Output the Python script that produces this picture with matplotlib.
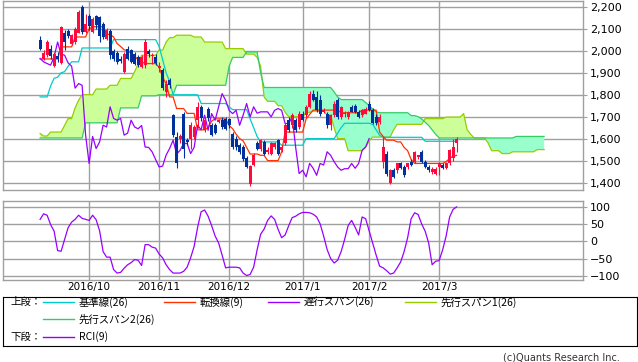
import matplotlib
matplotlib.use("Agg")
import matplotlib.pyplot as plt
import numpy as np
import pandas as pd

# trading days shown (TSE calendar)
holidays = ["2016-09-19", "2016-09-22", "2016-10-10", "2016-11-03", "2016-11-23",
            "2016-12-23", "2017-01-02", "2017-01-03", "2017-01-09"]
dates = pd.bdate_range("2016-09-09", "2017-03-08").difference(pd.to_datetime(holidays))

opens = [2051, 1965, 1980, 2010, 1930, 1975, 1945, 2079, 2090, 2033, 2040, 2082, 2200, 2088,
         2160, 2088, 2160, 2155, 2124, 2056, 2090, 2000, 1990, 1965, 1905, 2010, 2003, 1987,
         1972, 1927, 1935, 2000, 1975, 1972, 1920, 1912, 1813, 1866, 1707, 1608, 1600, 1714,
         1595, 1600, 1608, 1684, 1745, 1640, 1737, 1661, 1661, 1676, 1684, 1690, 1690, 1623,
         1600, 1570, 1562, 1510, 1395, 1480, 1578, 1555, 1585, 1540, 1532, 1562, 1593, 1547,
         1578, 1684, 1661, 1684, 1653, 1714, 1707, 1745, 1805, 1790, 1775, 1722, 1714, 1661,
         1707, 1775, 1699, 1710, 1699, 1745, 1750, 1722, 1707, 1714, 1760, 1729, 1699, 1676,
         1495, 1532, 1400, 1456, 1456, 1487, 1471, 1471, 1495, 1495, 1517, 1540, 1495, 1471,
         1448, 1441, 1471, 1480, 1465, 1487, 1510, 1580]
highs = [2066, 2003, 2048, 2025, 1995, 1995, 2115, 2094, 2100, 2075, 2109, 2185, 2207, 2170,
         2170, 2154, 2165, 2160, 2130, 2105, 2100, 2010, 2000, 1975, 1995, 2020, 2010, 1995,
         1980, 1980, 2056, 2010, 1990, 1985, 1950, 1920, 1866, 1875, 1714, 1630, 1620, 1720,
         1605, 1676, 1660, 1767, 1755, 1700, 1745, 1670, 1670, 1690, 1700, 1700, 1695, 1630,
         1610, 1580, 1570, 1520, 1480, 1535, 1590, 1600, 1595, 1560, 1585, 1585, 1600, 1570,
         1670, 1700, 1715, 1695, 1725, 1725, 1755, 1815, 1820, 1815, 1800, 1740, 1720, 1710,
         1770, 1785, 1750, 1725, 1725, 1755, 1760, 1730, 1735, 1745, 1770, 1740, 1710, 1710,
         1608, 1545, 1460, 1465, 1490, 1495, 1480, 1490, 1505, 1545, 1525, 1550, 1502, 1480,
         1470, 1470, 1495, 1490, 1495, 1555, 1600, 1608]
lows = [2003, 1957, 1972, 1965, 1925, 1950, 1940, 2003, 2060, 2025, 2033, 2079, 2075, 2079,
        2094, 2079, 2100, 2040, 2055, 2048, 1965, 1955, 1940, 1945, 1900, 1960, 1945, 1935,
        1925, 1920, 1920, 1970, 1940, 1935, 1905, 1820, 1790, 1830, 1608, 1465, 1580, 1510,
        1570, 1555, 1600, 1650, 1680, 1630, 1680, 1610, 1620, 1670, 1645, 1640, 1650, 1555,
        1550, 1530, 1500, 1465, 1385, 1475, 1550, 1545, 1525, 1530, 1525, 1555, 1525, 1540,
        1570, 1630, 1650, 1630, 1645, 1680, 1700, 1740, 1770, 1720, 1705, 1715, 1650, 1640,
        1700, 1690, 1690, 1700, 1690, 1720, 1715, 1695, 1700, 1710, 1725, 1665, 1660, 1665,
        1465, 1430, 1395, 1420, 1445, 1460, 1425, 1460, 1475, 1490, 1505, 1490, 1465, 1450,
        1440, 1435, 1433, 1460, 1460, 1480, 1500, 1540]
closes = [2010, 1990, 2040, 1975, 1987, 1962, 2109, 2040, 2066, 2070, 2100, 2177, 2088, 2124,
          2112, 2145, 2118, 2068, 2063, 2097, 1980, 1965, 1950, 1955, 1987, 1965, 1950, 1942,
          1935, 1972, 2040, 1985, 1980, 1945, 1930, 1830, 1851, 1843, 1616, 1487, 1610, 1555,
          1585, 1661, 1653, 1745, 1692, 1684, 1692, 1616, 1625, 1684, 1653, 1645, 1660, 1562,
          1560, 1540, 1505, 1471, 1475, 1525, 1555, 1593, 1530, 1547, 1578, 1578, 1532, 1560,
          1661, 1640, 1707, 1638, 1714, 1684, 1745, 1805, 1775, 1729, 1714, 1729, 1661, 1707,
          1760, 1699, 1745, 1716, 1722, 1722, 1722, 1699, 1729, 1737, 1729, 1669, 1669, 1699,
          1562, 1441, 1456, 1426, 1487, 1465, 1433, 1487, 1480, 1540, 1524, 1495, 1471, 1456,
          1463, 1463, 1487, 1465, 1487, 1547, 1562, 1600]

tenkan = [1963, 1963, 1963, 1963, 1963, 1963, 2018, 2018, 2018, 2018, 2063, 2063, 2063, 2063,
          2100, 2110, 2110, 2110, 2110, 2075, 2075, 2063, 2033, 2020, 2005, 2000, 1990, 1975,
          1960, 1950, 1942, 1942, 1942, 1942, 1925, 1880, 1850, 1790, 1790, 1737, 1737, 1737,
          1715, 1715, 1715, 1640, 1640, 1640, 1650, 1680, 1690, 1690, 1690, 1690, 1660, 1645,
          1620, 1600, 1590, 1560, 1530, 1530, 1530, 1524, 1524, 1500, 1500, 1500, 1500, 1540,
          1630, 1630, 1630, 1630, 1630, 1630, 1690, 1710, 1730, 1730, 1730, 1730, 1730, 1730,
          1730, 1730, 1718, 1718, 1718, 1718, 1718, 1718, 1730, 1730, 1730, 1730, 1730, 1630,
          1610, 1593, 1593, 1593, 1585, 1585, 1560, 1545, 1505, 1487, 1487, 1487, 1487, 1487,
          1487, 1487, 1487, 1487, 1495, 1510, 1520, 1524]
kijun = [1790, 1790, 1790, 1840, 1875, 1880, 1900, 1905, 1930, 1950, 1950, 1950, 2013, 2013,
         2013, 2013, 2013, 2013, 2013, 2013, 2013, 2051, 2051, 2051, 2051, 2051, 2051, 2051,
         2051, 2051, 2051, 2051, 2051, 2051, 2020, 1960, 1900, 1860, 1800, 1800, 1800, 1800,
         1800, 1800, 1800, 1800, 1760, 1760, 1760, 1760, 1760, 1760, 1760, 1760, 1745, 1732,
         1732, 1732, 1732, 1732, 1690, 1650, 1610, 1585, 1585, 1585, 1585, 1585, 1585, 1570,
         1570, 1570, 1570, 1570, 1570, 1570, 1600, 1600, 1600, 1600, 1600, 1600, 1600, 1600,
         1600, 1625, 1650, 1670, 1670, 1670, 1670, 1670, 1670, 1670, 1670, 1665, 1640, 1615,
         1606, 1606, 1606, 1606, 1606, 1606, 1606, 1606, 1606, 1606, 1606, 1606, 1588, 1588,
         1588, 1588, 1588, 1588, 1588, 1588, 1588, 1588]
# leading spans, as drawn (run 25 sessions past the last candle)
span1 = [1623, 1612, 1612, 1630, 1630, 1630, 1630, 1660, 1691, 1691, 1740, 1775, 1800, 1800,
         1800, 1800, 1826, 1826, 1826, 1826, 1843, 1843, 1843, 1874, 1874, 1874, 1874, 1905,
         1940, 1980, 1980, 1980, 1980, 1980, 2003, 2003, 2040, 2060, 2060, 2071, 2071, 2071,
         2071, 2071, 2063, 2063, 2063, 2040, 2040, 2040, 2040, 2040, 2040, 2010, 2010, 2010,
         2010, 2010, 2010, 1985, 1985, 1985, 1970, 1930, 1790, 1770, 1770, 1770, 1750, 1750,
         1720, 1700, 1700, 1700, 1700, 1700, 1720, 1720, 1725, 1725, 1725, 1725, 1707, 1707,
         1650, 1600, 1600, 1600, 1545, 1545, 1545, 1545, 1545, 1560, 1590, 1607, 1607, 1607,
         1607, 1607, 1607, 1640, 1665, 1665, 1665, 1665, 1665, 1665, 1665, 1665, 1691, 1691,
         1691, 1691, 1691, 1691, 1698, 1698, 1698, 1698, 1698, 1714, 1640, 1620, 1603, 1603,
         1603, 1603, 1580, 1545, 1545, 1545, 1532, 1532, 1532, 1540, 1540, 1540, 1540, 1540,
         1540, 1540, 1550, 1550, 1550]
span2 = [1603, 1603, 1603, 1603, 1603, 1603, 1603, 1603, 1603, 1603, 1603, 1603, 1603, 1672,
         1672, 1672, 1672, 1672, 1672, 1672, 1672, 1672, 1672, 1740, 1740, 1740, 1740, 1740,
         1740, 1795, 1795, 1795, 1795, 1795, 1800, 1800, 1800, 1800, 1800, 1843, 1843, 1843,
         1843, 1843, 1843, 1843, 1843, 1843, 1843, 1843, 1843, 1843, 1843, 1843, 1930, 1970,
         1970, 1970, 1970, 1995, 1995, 1995, 1995, 1900, 1833, 1833, 1833, 1833, 1833, 1833,
         1833, 1833, 1833, 1833, 1833, 1833, 1833, 1833, 1833, 1833, 1833, 1833, 1833, 1833,
         1813, 1790, 1778, 1778, 1778, 1778, 1778, 1778, 1778, 1765, 1750, 1735, 1722, 1718,
         1718, 1718, 1718, 1718, 1718, 1718, 1718, 1718, 1705, 1705, 1700, 1690, 1675, 1660,
         1640, 1620, 1603, 1603, 1603, 1603, 1603, 1603, 1603, 1603, 1603, 1603, 1603, 1603,
         1603, 1603, 1603, 1603, 1603, 1603, 1603, 1603, 1603, 1603, 1610, 1610, 1610, 1610,
         1610, 1610, 1610, 1610, 1610]
rci = [63, 79, 75, 48, 29, -27, -29, 5, 39, 55, 63, 75, 66, 63, 60, 75, 62, 30, -30, -46,
       -46, -82, -92, -90, -78, -68, -62, -53, -55, -70, -10, -10, -17, -20, -37, -48, -68,
       -82, -92, -92, -92, -87, -75, -48, -15, 40, 85, 90, 72, 45, 15, -5, -40, -77, -75, -75,
       -75, -77, -92, -99, -96, -75, -25, 20, 35, 60, 73, 63, 34, 10, 18, 44, 68, 72, 79, 83,
       83, 82, 78, 70, 50, 15, -24, -50, -63, -55, -30, 5, 45, 60, 40, 18, 70, 65, 30, -5,
       -40, -72, -77, -85, -95, -92, -77, -60, -30, 10, 65, 82, 77, 50, 29, -5, -68, -58, -56,
       -25, 15, 70, 92, 99]

month_labels = ["2016/10", "2016/11", "2016/12", "2017/1", "2017/2", "2017/3"]

LAG = 25
RED = "#ff0a3c"
BLUE = "#00309c"
GRID = "#a0a0a0"

o = np.array(opens); h = np.array(highs); l = np.array(lows); c = np.array(closes)
x = np.arange(len(dates))
xs = np.arange(len(span1))
mstart = [i for i in range(1, len(dates)) if dates[i].month != dates[i - 1].month]

fig = plt.figure(figsize=(6.38, 3.62), dpi=100)
W, H = 638.0, 362.0
ax = fig.add_axes([3 / W, 1 - 190 / H, 580 / W, 189 / H])
ax2 = fig.add_axes([3 / W, 1 - 280 / H, 580 / W, 79 / H])

for a in (ax, ax2):
    a.set_xlim(-10.6, 155.1)
    a.set_xticks(mstart)
    a.grid(True, color=GRID, lw=1.0)
    a.set_axisbelow(True)
    for s in a.spines.values():
        s.set_color(GRID)
        s.set_linewidth(1.0)
    a.yaxis.tick_right()
    a.tick_params(axis="y", length=3, color=GRID, labelsize=8, pad=2)
    a.tick_params(axis="x", length=0, labelsize=7.5, pad=1.5)

# main panel
ax.set_ylim(1366, 2227)
ax.set_yticks(np.arange(1400, 2201, 100))
ax.set_yticklabels([f"{v:,}" for v in range(1400, 2201, 100)])
ax.set_xticklabels([])

s1 = np.array(span1); s2 = np.array(span2)
ax.fill_between(xs, s1, s2, where=s1 >= s2, interpolate=True, color="#ccff99", lw=0, zorder=1)
ax.fill_between(xs, s1, s2, where=s1 <= s2, interpolate=True, color="#99ffcc", lw=0, zorder=1)
ax.plot(xs, s1, color="#99cc00", lw=0.9, zorder=2)
ax.plot(xs, s2, color="#33cc66", lw=0.9, zorder=2)
ax.plot(x, kijun, color="#00cccc", lw=0.9, zorder=2)
ax.plot(x, tenkan, color="#ff3300", lw=0.9, zorder=2)
ax.plot(x[:-LAG], c[LAG:], color="#9900ff", lw=0.9, zorder=2)

up = c >= o
cols = np.where(up, RED, BLUE)
ax.vlines(x, l, h, colors=cols, lw=0.8, zorder=3)
body = np.maximum(np.abs(c - o), 3)
ax.bar(x, body, bottom=np.minimum(o, c), width=0.85, color=cols, lw=0, zorder=4)

# RCI panel
ax2.set_ylim(-112, 116)
ax2.set_yticks([-100, -50, 0, 50, 100])
ax2.set_xticklabels(month_labels)
ax2.plot(x, rci, color="#9900ff", lw=0.9)

# legend box
lax = fig.add_axes([3 / W, 1 - 346 / H, 634 / W, 49 / H])
lax.set_xlim(3, 637)
lax.set_ylim(346, 297)
lax.set_xticks([]); lax.set_yticks([])
for s in lax.spines.values():
    s.set_color("black")
    s.set_linewidth(0.8)

jp = ["Noto Sans CJK JP", "DejaVu Sans"]
items = [
    (302, 43, "#00cccc", "基準線(26)"),
    (302, 164, "#ff3300", "転換線(9)"),
    (302, 268, "#9900ff", "遅行スパン(26)"),
    (302, 405, "#99cc00", "先行スパン1(26)"),
    (319, 43, "#33cc66", "先行スパン2(26)"),
    (337, 43, "#9900ff", "RCI(9)"),
]
for yy, x0, col, txt in items:
    lax.plot([x0, x0 + 31], [yy, yy], color=col, lw=1.0)
    lax.text(x0 + 36, yy, txt, family=jp, fontsize=7.5, va="center", ha="left")
lax.text(10, 302, "上段：", family=jp, fontsize=7.5, va="center")
lax.text(10, 337, "下段：", family=jp, fontsize=7.5, va="center")

fig.text(620 / W, 1 - 357 / H, "(c)Quants Research Inc.", fontsize=7, ha="right",
         va="center", color="#333333")

fig.savefig("out.png", dpi=100)
